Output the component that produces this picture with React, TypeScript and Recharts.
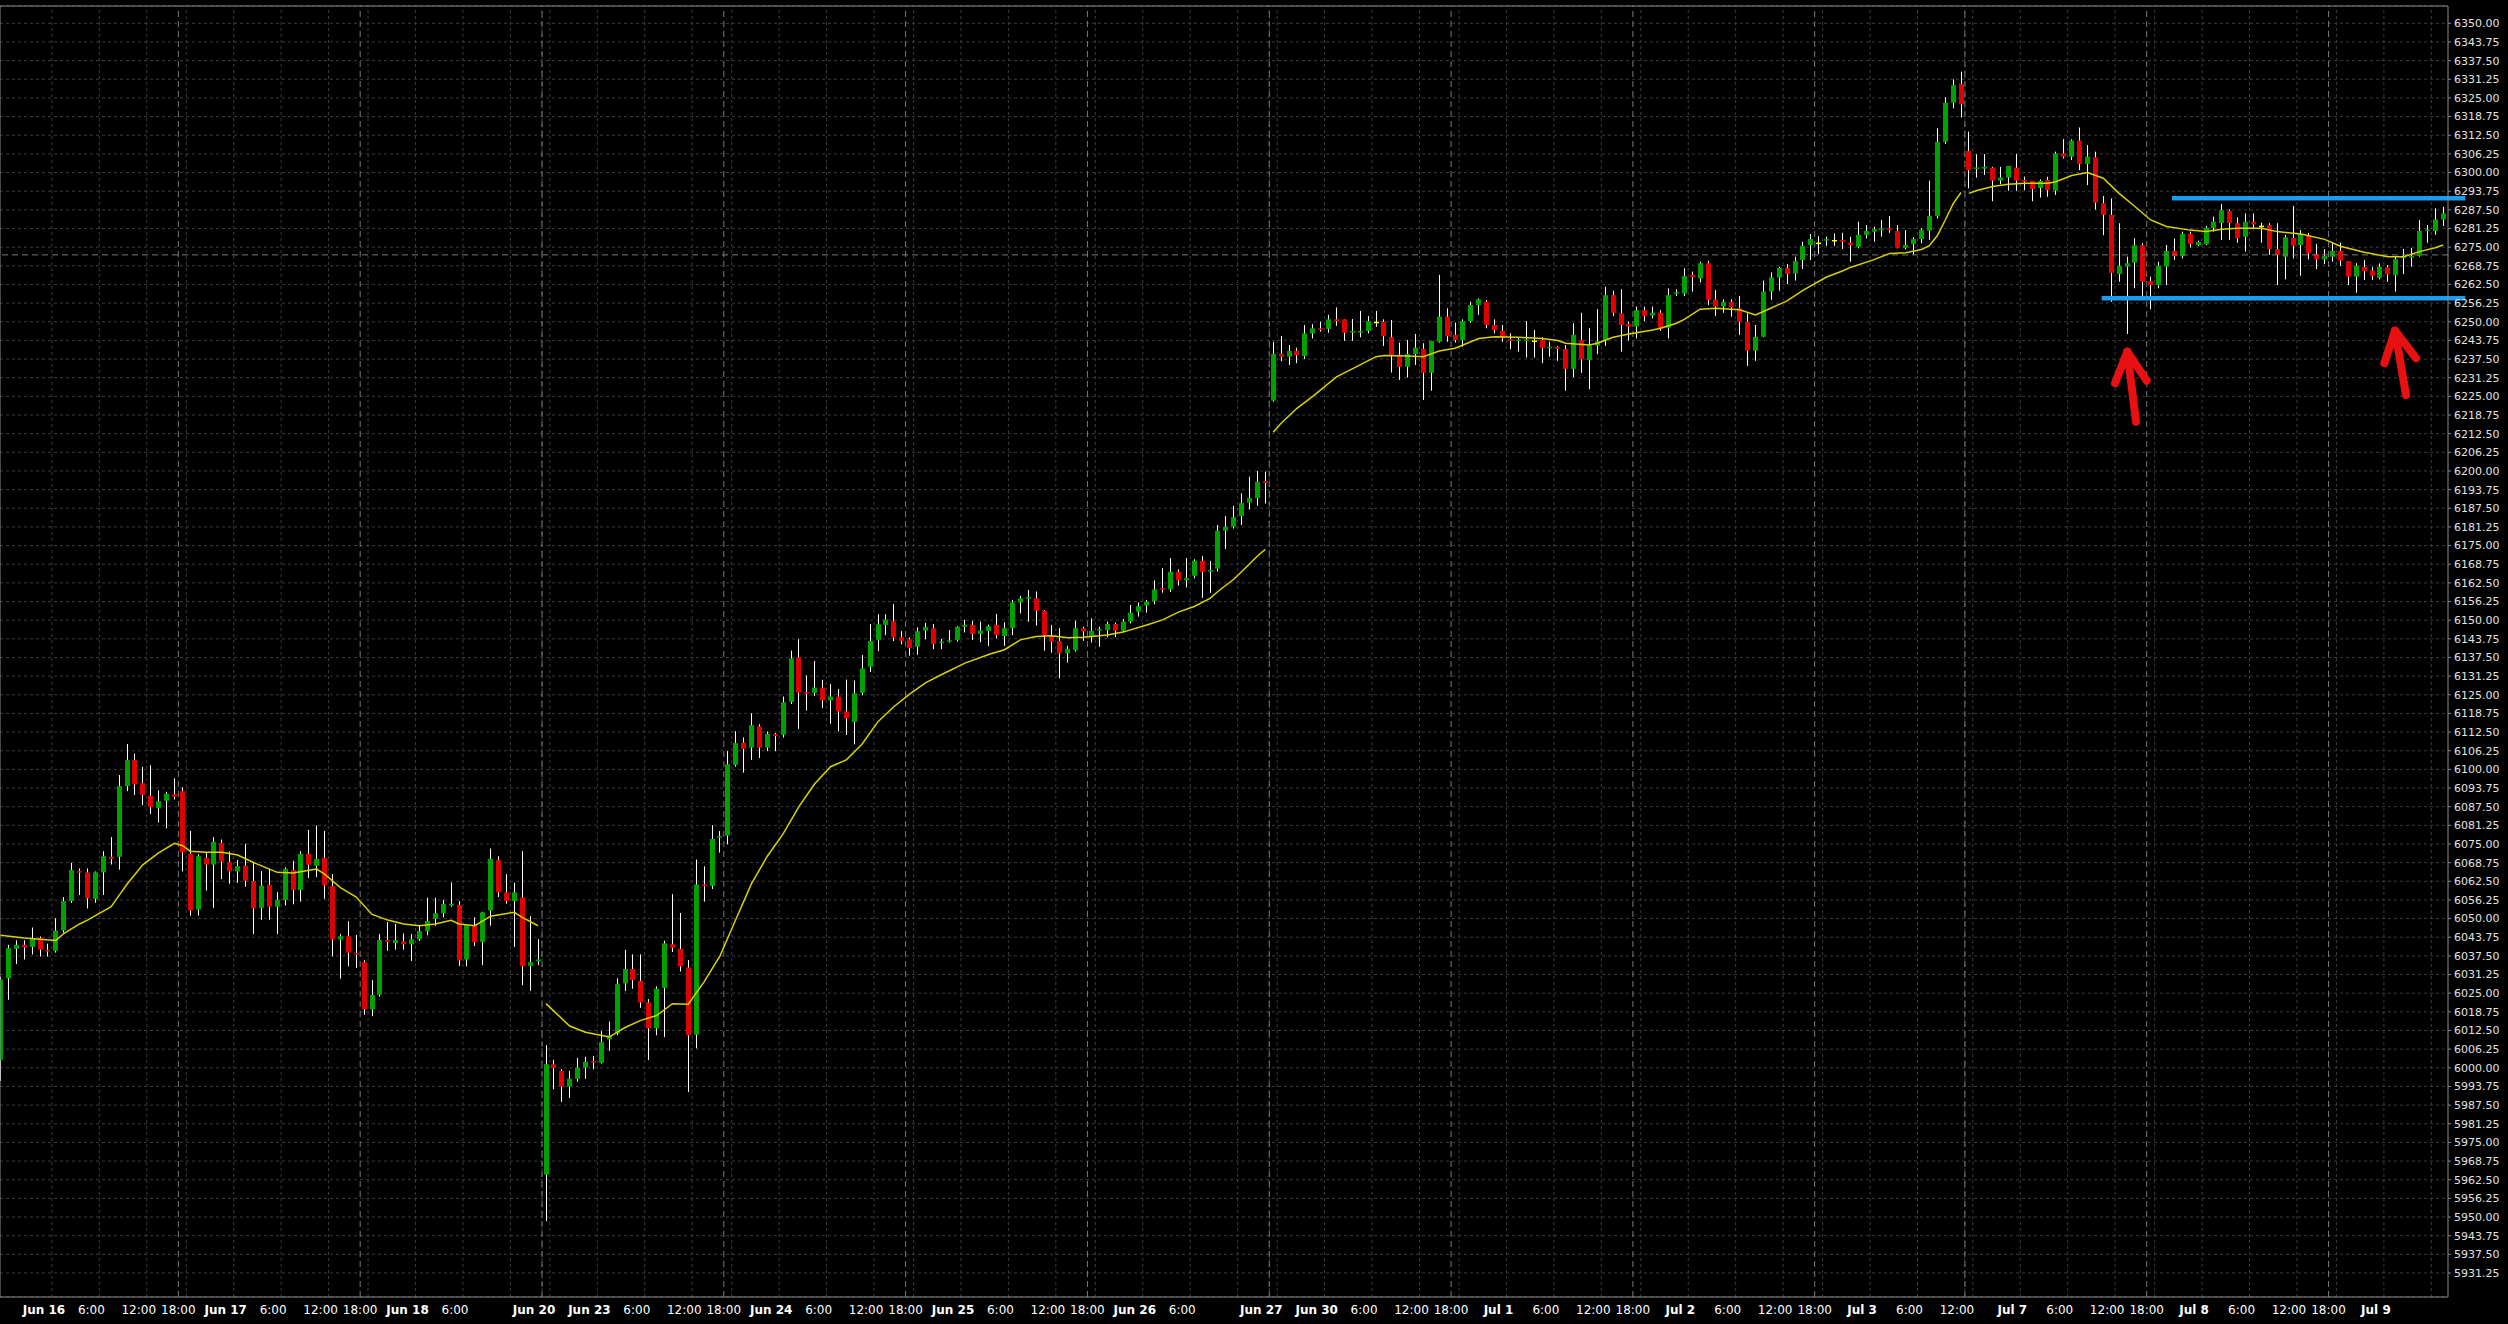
import { ComposedChart, Bar, Line, XAxis, YAxis, CartesianGrid, ReferenceLine } from "recharts";

type OHLC = [number, number, number, number]; // open, high, low, close

// hourly bars, one array per trading session
const jun16: OHLC[] = [
  [6002.7, 6030.5, 5995.6, 6029.6], [6030.0, 6041.2, 6022.8, 6040.1], [6039.9, 6042.7, 6034.8, 6041.2], [6041.2, 6042.7, 6036.3, 6040.3],
  [6040.5, 6047.0, 6038.0, 6043.5], [6043.5, 6044.0, 6037.3, 6039.6], [6039.5, 6041.6, 6037.3, 6039.0], [6039.2, 6050.1, 6038.6, 6046.0],
  [6046.0, 6057.2, 6045.3, 6055.9], [6055.9, 6068.7, 6055.3, 6066.3], [6065.9, 6066.8, 6057.9, 6065.4], [6065.5, 6066.8, 6053.4, 6056.8],
  [6056.6, 6065.8, 6055.3, 6065.5], [6065.5, 6072.6, 6057.9, 6070.9], [6070.7, 6077.3, 6068.1, 6070.0], [6070.7, 6098.1, 6066.4, 6094.4],
  [6094.4, 6108.5, 6092.7, 6103.1], [6103.1, 6105.3, 6091.4, 6095.0], [6095.4, 6100.8, 6088.0, 6091.4], [6091.2, 6101.4, 6085.0, 6087.3],
  [6087.1, 6093.0, 6082.2, 6089.3], [6089.5, 6092.5, 6080.2, 6091.8], [6091.7, 6097.0, 6089.9, 6090.9],
];
const jun17: OHLC[] = [
  [6092.7, 6094.0, 6065.8, 6072.2], [6071.7, 6079.4, 6051.0, 6052.7], [6053.0, 6071.6, 6051.0, 6070.9], [6070.3, 6072.2, 6059.4, 6068.1],
  [6068.1, 6077.3, 6053.6, 6075.7], [6075.3, 6076.5, 6063.2, 6069.1], [6069.0, 6072.5, 6061.7, 6065.8], [6065.8, 6069.6, 6062.0, 6067.6],
  [6067.7, 6075.1, 6060.7, 6062.7], [6062.6, 6068.7, 6044.8, 6053.4], [6053.6, 6065.9, 6049.6, 6061.0], [6061.3, 6066.8, 6049.6, 6054.0],
  [6054.0, 6058.9, 6044.8, 6056.3], [6056.2, 6067.2, 6054.4, 6066.7], [6066.3, 6069.4, 6054.8, 6059.6], [6059.6, 6072.6, 6055.7, 6071.7],
  [6071.7, 6079.7, 6063.6, 6068.1], [6067.7, 6081.2, 6063.9, 6070.0], [6070.3, 6079.4, 6056.6, 6061.1], [6060.9, 6064.9, 6037.3, 6043.0],
  [6043.0, 6044.8, 6029.9, 6044.1], [6044.1, 6049.1, 6034.0, 6038.6], [6038.5, 6044.5, 6033.5, 6038.0],
];
const jun18: OHLC[] = [
  [6035.4, 6036.0, 6017.8, 6019.6], [6019.6, 6029.4, 6017.3, 6024.4], [6024.5, 6044.8, 6023.9, 6042.8], [6042.8, 6048.9, 6039.2, 6042.2],
  [6041.8, 6048.2, 6039.6, 6042.8], [6042.4, 6045.0, 6039.6, 6041.4], [6041.4, 6044.8, 6035.8, 6043.1], [6043.0, 6047.6, 6042.5, 6045.8],
  [6045.8, 6057.0, 6044.4, 6049.2], [6049.9, 6057.0, 6047.6, 6051.8], [6051.8, 6056.3, 6050.4, 6054.9], [6054.4, 6062.1, 6054.0, 6055.0],
  [6054.6, 6055.9, 6034.1, 6036.0], [6036.3, 6047.8, 6034.0, 6047.8], [6047.8, 6050.4, 6040.8, 6042.1], [6042.2, 6052.3, 6034.4, 6052.1],
  [6052.7, 6073.5, 6047.6, 6070.0], [6069.6, 6070.9, 6057.2, 6058.8], [6058.8, 6064.9, 6055.0, 6055.9], [6055.9, 6062.0, 6040.5, 6058.8],
  [6057.1, 6072.6, 6027.7, 6034.1], [6034.2, 6050.8, 6025.8, 6035.4], [6035.7, 6043.1, 6034.4, 6036.3],
];
const jun23: OHLC[] = [
  [5964.2, 6007.6, 5948.6, 6001.2], [6001.2, 6002.7, 5992.8, 5999.9], [5998.9, 5999.5, 5988.6, 5993.7], [5993.7, 5998.9, 5989.9, 5996.3],
  [5996.3, 6003.3, 5995.3, 6000.1], [6000.1, 6003.7, 5996.3, 6002.0], [6002.3, 6004.0, 5999.5, 6001.8], [6001.7, 6012.3, 6001.4, 6008.6],
  [6009.5, 6015.5, 6005.7, 6010.9], [6011.5, 6030.0, 6010.9, 6028.0], [6028.3, 6039.5, 6025.7, 6033.1], [6033.1, 6038.0, 6026.5, 6029.4],
  [6029.1, 6038.0, 6020.1, 6021.9], [6021.9, 6023.0, 6002.6, 6013.2], [6013.2, 6027.3, 6010.9, 6026.5], [6026.8, 6042.6, 6010.3, 6041.7],
  [6041.4, 6058.2, 6038.8, 6040.2], [6039.8, 6051.9, 6032.3, 6034.0], [6033.6, 6036.1, 5991.9, 6010.9], [6011.1, 6069.8, 6006.5, 6061.4],
  [6061.4, 6067.5, 6055.7, 6061.0], [6061.0, 6081.3, 6059.9, 6076.7], [6077.1, 6079.3, 6072.1, 6077.6],
];
const jun24: OHLC[] = [
  [6077.8, 6106.1, 6074.9, 6101.7], [6101.5, 6112.8, 6100.9, 6108.8], [6109.0, 6110.7, 6098.9, 6106.9], [6107.3, 6118.8, 6103.2, 6114.8],
  [6114.4, 6115.1, 6103.8, 6107.3], [6107.3, 6112.7, 6106.1, 6111.9], [6111.8, 6112.2, 6106.1, 6111.2], [6111.6, 6124.4, 6110.7, 6122.5],
  [6122.6, 6139.8, 6121.9, 6137.2], [6137.5, 6143.6, 6113.6, 6125.7], [6125.9, 6131.5, 6119.7, 6125.4], [6125.6, 6136.3, 6124.6, 6127.4],
  [6127.4, 6130.0, 6120.5, 6123.1], [6123.1, 6128.6, 6115.3, 6124.4], [6124.4, 6126.9, 6112.7, 6119.4], [6119.4, 6130.1, 6111.5, 6117.1],
  [6115.9, 6129.8, 6108.4, 6125.5], [6125.7, 6138.3, 6124.8, 6133.8], [6134.4, 6148.7, 6132.6, 6143.0], [6143.4, 6152.0, 6139.6, 6148.6],
  [6148.4, 6152.0, 6145.0, 6150.2], [6149.6, 6155.4, 6143.0, 6144.2], [6144.3, 6146.3, 6141.9, 6143.0],
];
const jun25: OHLC[] = [
  [6143.6, 6144.2, 6138.1, 6140.7], [6141.1, 6147.6, 6138.4, 6146.3], [6146.5, 6149.1, 6143.6, 6147.7], [6147.3, 6148.7, 6140.3, 6142.0],
  [6142.3, 6143.7, 6140.3, 6142.8], [6142.8, 6146.7, 6142.5, 6143.3], [6143.4, 6148.0, 6142.8, 6147.8], [6147.8, 6150.1, 6145.9, 6148.4],
  [6148.4, 6149.8, 6143.4, 6145.4], [6145.4, 6149.5, 6142.6, 6146.5], [6146.4, 6148.5, 6141.3, 6148.0], [6148.4, 6152.1, 6143.9, 6145.0],
  [6144.7, 6149.3, 6141.4, 6147.3], [6147.3, 6156.8, 6145.0, 6155.9], [6155.9, 6158.1, 6152.3, 6157.3], [6157.3, 6160.1, 6149.5, 6157.7],
  [6157.3, 6159.6, 6148.2, 6153.1], [6153.1, 6153.4, 6139.8, 6145.0], [6144.7, 6148.4, 6139.1, 6142.8], [6143.0, 6147.3, 6130.5, 6138.9],
  [6138.9, 6141.4, 6135.8, 6140.4], [6140.0, 6149.8, 6139.5, 6147.3], [6147.3, 6147.8, 6143.1, 6146.2],
];
const jun26: OHLC[] = [
  [6144.7, 6150.6, 6142.5, 6146.4], [6146.5, 6147.8, 6141.1, 6147.0], [6146.7, 6149.5, 6144.3, 6148.7], [6148.7, 6149.2, 6144.3, 6146.5],
  [6146.5, 6150.4, 6145.9, 6149.5], [6149.5, 6155.1, 6148.9, 6152.5], [6152.8, 6155.9, 6151.2, 6154.7], [6154.9, 6156.8, 6152.5, 6156.2],
  [6156.4, 6163.3, 6155.3, 6160.3], [6160.8, 6167.4, 6159.2, 6160.3], [6160.3, 6170.8, 6159.4, 6166.2], [6166.2, 6167.0, 6161.6, 6163.3],
  [6163.3, 6170.8, 6161.0, 6164.1], [6164.9, 6170.4, 6164.0, 6169.9], [6169.9, 6171.5, 6157.5, 6166.2], [6166.3, 6169.8, 6159.2, 6166.8],
  [6167.3, 6181.9, 6166.3, 6179.9], [6180.0, 6184.9, 6173.9, 6181.3], [6181.3, 6188.3, 6180.7, 6184.5], [6184.9, 6192.5, 6181.9, 6189.2],
  [6189.4, 6198.1, 6187.1, 6190.9], [6190.9, 6200.0, 6188.3, 6196.3], [6196.6, 6199.8, 6189.1, 6196.0],
];
const jun30: OHLC[] = [
  [6223.6, 6243.3, 6223.2, 6239.2], [6239.2, 6245.2, 6236.8, 6238.3], [6238.3, 6242.2, 6235.5, 6240.2], [6240.2, 6241.3, 6236.1, 6238.8],
  [6238.5, 6248.9, 6237.5, 6246.1], [6246.1, 6249.2, 6244.4, 6247.8], [6247.8, 6250.0, 6246.7, 6247.3], [6247.6, 6252.3, 6246.3, 6250.8],
  [6250.8, 6254.8, 6248.6, 6250.2], [6250.8, 6250.8, 6243.6, 6246.3], [6246.4, 6250.9, 6243.6, 6246.9], [6246.4, 6253.6, 6244.8, 6246.9],
  [6246.9, 6251.9, 6246.1, 6250.2], [6250.0, 6253.6, 6248.3, 6250.0], [6250.0, 6250.8, 6241.9, 6245.2], [6244.8, 6250.6, 6233.0, 6238.9],
  [6238.9, 6243.0, 6230.5, 6234.9], [6234.9, 6243.9, 6231.3, 6239.2], [6239.2, 6245.9, 6235.5, 6241.3], [6240.9, 6242.8, 6223.8, 6232.9],
  [6232.9, 6243.6, 6226.9, 6243.6], [6243.3, 6265.7, 6243.0, 6251.7], [6251.7, 6254.5, 6243.3, 6245.2],
];
const jul1: OHLC[] = [
  [6245.6, 6249.7, 6243.0, 6243.9], [6243.9, 6250.8, 6241.6, 6250.2], [6250.2, 6256.7, 6249.7, 6255.6], [6255.6, 6257.8, 6252.3, 6257.5],
  [6256.7, 6257.3, 6247.8, 6248.9], [6248.9, 6250.8, 6246.1, 6247.2], [6246.9, 6248.9, 6243.3, 6244.8], [6244.1, 6246.1, 6240.8, 6243.7],
  [6243.6, 6244.8, 6240.0, 6244.0], [6243.6, 6250.2, 6238.0, 6244.0], [6243.7, 6247.2, 6238.0, 6243.7], [6243.9, 6244.8, 6236.1, 6241.3],
  [6241.2, 6243.3, 6238.3, 6241.6], [6241.6, 6241.9, 6236.9, 6241.0], [6240.9, 6242.2, 6226.9, 6234.2], [6234.2, 6249.5, 6231.4, 6245.6],
  [6243.9, 6253.0, 6232.9, 6237.4], [6237.2, 6247.8, 6227.4, 6242.0], [6242.0, 6254.2, 6239.1, 6243.5], [6243.9, 6261.7, 6241.9, 6258.9],
  [6258.9, 6260.4, 6251.9, 6253.0], [6252.8, 6260.9, 6240.0, 6248.9], [6249.2, 6250.0, 6243.7, 6248.4],
];
const jul2: OHLC[] = [
  [6248.4, 6255.1, 6244.4, 6253.9], [6253.9, 6255.1, 6250.2, 6252.0], [6252.1, 6255.1, 6251.1, 6253.0], [6253.0, 6253.9, 6247.0, 6248.0],
  [6248.0, 6261.2, 6244.4, 6258.9], [6259.4, 6260.9, 6258.6, 6259.9], [6259.5, 6267.9, 6258.6, 6265.3], [6265.7, 6266.8, 6260.1, 6264.9],
  [6264.5, 6270.1, 6263.2, 6269.6], [6269.6, 6270.4, 6255.6, 6257.3], [6257.5, 6260.6, 6251.9, 6255.1], [6255.1, 6257.5, 6253.0, 6256.7],
  [6256.7, 6257.5, 6251.7, 6254.8], [6254.5, 6258.6, 6245.6, 6250.0], [6250.0, 6252.8, 6235.2, 6240.3], [6240.3, 6248.9, 6236.9, 6245.0],
  [6245.0, 6263.8, 6244.8, 6260.1], [6260.1, 6266.5, 6257.3, 6264.8], [6264.8, 6268.4, 6260.4, 6268.0], [6268.0, 6269.3, 6262.6, 6266.0],
  [6266.2, 6271.8, 6263.8, 6270.3], [6270.7, 6276.8, 6267.7, 6275.4], [6275.7, 6279.4, 6270.7, 6277.7],
];
const jul3: OHLC[] = [
  [6276.5, 6278.7, 6272.7, 6276.5], [6277.2, 6278.5, 6275.4, 6277.7], [6277.4, 6279.6, 6275.4, 6277.4], [6277.4, 6279.8, 6274.4, 6276.8],
  [6276.5, 6278.5, 6270.1, 6275.7], [6275.1, 6283.5, 6274.6, 6279.1], [6279.1, 6282.4, 6277.9, 6280.4], [6280.2, 6281.8, 6276.8, 6281.0],
  [6280.7, 6284.1, 6278.5, 6281.3], [6281.3, 6285.4, 6279.8, 6280.7], [6280.4, 6282.4, 6274.6, 6274.8], [6274.8, 6280.7, 6274.3, 6275.7],
  [6276.0, 6278.3, 6272.4, 6277.7], [6277.7, 6281.3, 6276.3, 6280.7], [6280.5, 6297.3, 6277.4, 6285.4], [6285.4, 6314.8, 6284.6, 6310.3],
  [6310.3, 6325.2, 6309.6, 6323.4], [6323.4, 6331.2, 6321.5, 6329.3], [6329.7, 6333.8, 6318.5, 6322.9],
];
const jul7: OHLC[] = [
  [6307.2, 6313.7, 6294.7, 6300.8], [6301.2, 6306.1, 6298.3, 6301.7], [6301.3, 6306.2, 6299.2, 6301.9], [6301.6, 6301.9, 6290.4, 6297.3],
  [6297.3, 6301.9, 6296.1, 6298.3], [6298.3, 6302.2, 6293.9, 6302.2], [6301.6, 6306.2, 6293.9, 6297.3], [6297.5, 6298.6, 6294.1, 6297.0],
  [6297.2, 6297.2, 6290.4, 6294.5], [6294.8, 6297.7, 6291.6, 6297.2], [6297.5, 6298.6, 6291.9, 6294.1], [6293.9, 6307.0, 6292.5, 6306.4],
  [6306.4, 6311.2, 6304.7, 6305.3], [6305.3, 6311.1, 6304.2, 6310.7], [6310.7, 6315.1, 6300.8, 6302.9], [6302.9, 6309.2, 6295.8, 6305.3],
  [6305.1, 6307.0, 6287.6, 6289.9], [6289.7, 6292.1, 6279.0, 6285.8], [6285.8, 6291.3, 6256.7, 6266.4], [6266.0, 6283.0, 6263.4, 6268.7],
  [6268.5, 6271.8, 6245.9, 6269.6], [6269.8, 6278.0, 6261.2, 6275.6], [6275.6, 6276.3, 6258.4, 6263.4],
];
const jul8: OHLC[] = [
  [6263.6, 6265.1, 6254.2, 6262.3], [6262.3, 6270.1, 6261.2, 6268.7], [6268.5, 6275.7, 6262.3, 6273.7], [6273.7, 6277.9, 6270.7, 6272.0],
  [6272.0, 6280.2, 6271.2, 6279.4], [6279.4, 6280.2, 6274.9, 6276.0], [6275.7, 6277.2, 6275.4, 6276.7], [6276.0, 6282.1, 6275.7, 6281.5],
  [6281.5, 6285.2, 6280.2, 6283.5], [6283.1, 6289.4, 6277.4, 6287.4], [6287.1, 6287.6, 6277.4, 6283.1], [6283.0, 6285.0, 6276.5, 6278.0],
  [6278.5, 6286.3, 6273.5, 6283.5], [6283.5, 6286.3, 6281.0, 6282.6], [6282.2, 6283.2, 6276.5, 6282.2], [6282.4, 6283.0, 6272.4, 6274.3],
  [6274.3, 6283.0, 6262.3, 6272.4], [6271.8, 6279.1, 6264.2, 6278.3], [6278.0, 6288.8, 6271.2, 6275.5], [6275.7, 6280.7, 6265.4, 6279.3],
  [6278.9, 6279.8, 6270.9, 6272.9], [6272.7, 6276.1, 6267.6, 6270.9], [6270.9, 6274.3, 6269.3, 6272.0],
];
const jul9: OHLC[] = [
  [6271.8, 6276.3, 6270.1, 6273.7], [6273.7, 6276.5, 6268.7, 6270.5], [6270.3, 6270.3, 6262.3, 6265.1], [6265.1, 6269.6, 6259.7, 6268.7],
  [6268.3, 6270.7, 6264.0, 6267.0], [6267.1, 6268.4, 6264.0, 6265.4], [6264.7, 6269.5, 6264.2, 6268.4], [6268.2, 6269.0, 6263.4, 6265.9],
  [6265.6, 6271.8, 6260.1, 6270.9], [6271.3, 6274.4, 6266.0, 6271.8], [6271.5, 6274.8, 6268.5, 6272.0], [6272.1, 6284.1, 6271.8, 6280.4],
  [6280.4, 6282.4, 6276.5, 6280.9], [6280.4, 6288.0, 6279.1, 6284.3], [6284.3, 6288.5, 6282.1, 6286.3],
];

const sessions = [jun16, jun17, jun18, jun23, jun24, jun25, jun26, jun30, jul1, jul2, jul3, jul7, jul8, jul9];

// moving average as [bar, value]; it breaks at the session gaps
const maPart1: [number, number][] = [
  [0, 6044.4], [3, 6043.5], [5, 6043.1], [7, 6042.7], [8, 6045.0], [10, 6048.2], [11, 6049.5], [14, 6054.0], [15, 6057.8],
  [16, 6061.5], [17, 6064.8], [18, 6068.0], [20, 6072.0], [22, 6075.2], [23, 6074.5], [24, 6072.6], [26, 6072.2], [28, 6072.2],
  [30, 6071.3], [32, 6068.8], [35, 6065.5], [37, 6065.3], [39, 6066.2], [40, 6066.6], [41, 6064.9], [43, 6060.4], [45, 6057.2],
  [47, 6051.4], [49, 6049.5], [51, 6048.2], [53, 6047.6], [55, 6048.2], [57, 6049.4], [58, 6048.2], [60, 6047.6], [62, 6050.8],
  [65, 6052.1], [66, 6050.4], [68, 6047.6],
];
const maPart2: [number, number][] = [
  [69, 6021.5], [72, 6014.0], [74, 6011.9], [77, 6010.3], [79, 6013.5], [81, 6015.9], [83, 6017.5], [85, 6021.5], [87, 6021.3],
  [89, 6028.8], [91, 6037.4], [93, 6049.6], [95, 6061.7], [97, 6070.9], [99, 6078.4], [101, 6087.5], [103, 6095.2], [105, 6100.9],
  [107, 6103.2], [109, 6108.5], [111, 6116.0], [113, 6121.0], [115, 6125.2], [117, 6129.0], [119, 6131.7], [122, 6135.6],
  [125, 6138.5], [127, 6140.1], [129, 6143.4], [131, 6144.5], [133, 6144.8], [135, 6144.1], [137, 6144.3], [140, 6145.0],
  [142, 6146.0], [145, 6148.4], [147, 6150.1], [149, 6152.7], [151, 6154.6], [153, 6157.3], [154, 6159.6], [156, 6163.7],
  [158, 6168.8], [159, 6171.5], [160, 6173.7],
];
const maPart3: [number, number][] = [
  [161, 6213.0], [162, 6216.0], [164, 6221.0], [166, 6225.0], [169, 6231.5], [171, 6234.2], [174, 6238.3], [175, 6238.7],
  [178, 6238.5], [180, 6238.3], [182, 6240.2], [184, 6241.1], [187, 6244.4], [189, 6245.0], [192, 6244.8], [195, 6244.4],
  [197, 6243.7], [198, 6242.8], [201, 6242.2], [202, 6242.8], [204, 6244.8], [206, 6245.9], [209, 6247.2], [210, 6247.8],
  [212, 6249.5], [213, 6250.8], [215, 6254.2], [217, 6254.5], [220, 6254.0], [222, 6252.3], [224, 6254.6], [226, 6257.0],
  [228, 6260.5], [231, 6265.0], [233, 6267.0], [234, 6268.2], [237, 6270.8], [239, 6272.9], [241, 6273.1], [243, 6274.2],
  [244, 6275.5], [245, 6278.8], [246, 6284.0], [247, 6289.5], [248, 6293.3],
];
const maPart4: [number, number][] = [
  [249, 6293.0], [250, 6294.0], [252, 6295.3], [254, 6296.1], [256, 6296.4], [259, 6296.4], [260, 6296.9], [262, 6299.0],
  [264, 6300.0], [266, 6298.1], [268, 6293.0], [270, 6288.6], [272, 6284.1], [274, 6281.9], [277, 6280.7], [279, 6280.2],
  [281, 6281.0], [283, 6281.3], [286, 6281.3], [288, 6280.2], [291, 6279.4], [294, 6277.6], [296, 6275.3], [299, 6273.3],
  [302, 6271.8], [304, 6271.8], [306, 6273.5], [308, 6274.8], [309, 6275.7],
];

// time scale labels, one per bar index ("" = grid line only)
const tickBars = [
  6, 12, 18, 23, 29, 35, 41, 46, 52, 58, 64, 68, 69, 75, 81, 87, 92, 98, 104, 110, 115, 121, 127, 133,
  138, 144, 150, 156, 160, 161, 167, 173, 179, 184, 190, 196, 202, 207, 213, 219, 225, 230, 236, 242, 248,
  249, 255, 261, 267, 272, 278, 284, 290, 295, 301, 307,
];
const tickLabels = [
  "Jun 16", "6:00", "12:00", "18:00", "Jun 17", "6:00", "12:00", "18:00", "Jun 18", "6:00", "", "Jun 20", "", "Jun 23", "6:00", "12:00",
  "18:00", "Jun 24", "6:00", "12:00", "18:00", "Jun 25", "6:00", "12:00",
  "18:00", "Jun 26", "6:00", "", "Jun 27", "", "Jun 30", "6:00", "12:00", "18:00", "Jul 1", "6:00", "12:00", "18:00", "Jul 2", "6:00", "12:00",
  "18:00", "Jul 3", "6:00", "12:00",
  "", "Jul 7", "6:00", "12:00", "18:00", "Jul 8", "6:00", "12:00", "18:00", "Jul 9", "",
];

const priceTicks = Array.from({ length: 68 }, (_, i) => 5931.25 + i * 6.25);
const dashedLevel = 6272.4;
// user drawn box lines and arrows, in bar / price units
const rangeLines = [
  { from: 274.7, to: 311.8, price: 6291.4 },
  { from: 265.8, to: 311.8, price: 6257.85 },
];
const arrows = [
  { tail: [270.15, 6216.5], tip: [269.04, 6239.96], left: [267.49, 6229.37], right: [271.5, 6230.24] },
  { tail: [304.3, 6225.45], tip: [302.9, 6247.0], left: [301.56, 6236.07], right: [305.57, 6237.75] },
];

const X_MIN = -0.0633;
const X_MAX = 309.61;
const Y_MIN = 5923.2;
const Y_MAX = 6355.8;

const GREEN = "#00a000";
const RED = "#e00000";
const DOJI = "#ffff00";
const MA = "#d8d200";
const GRID = "#3c3c3c";
const SEP = "#7a7a7a";
const FRAME = "#8c8c8c";
const BLUE = "#1c9cf0";
const ARROW = "#e81010";
const FONT = "DejaVu Sans";

const rows: Record<string, any>[] = [];
sessions.forEach((s) =>
  s.forEach(([o, h, l, c]) => rows.push({ i: rows.length, o, h, l, c, range: [l, h] }))
);
[maPart1, maPart2, maPart3, maPart4].forEach((part, p) =>
  part.forEach(([bar, v]) => { rows[bar]["ma" + p] = v; })
);

const separators: number[] = [];
sessions.reduce((start, s, k) => {
  if (k > 0) separators.push(start - 0.5);
  return start + s.length;
}, 0);

function Candle(props: any) {
  const { x, y, width, height, payload } = props;
  if (x == null || y == null) return null;
  const { o, h, l, c } = payload;
  const top = Math.min(y, y + height);
  const span = Math.abs(height);
  const k = h > l ? span / (h - l) : 0;
  const cx = Math.round(x + width / 2);
  const yo = top + (h - Math.max(o, c)) * k;
  const yc = top + (h - Math.min(o, c)) * k;
  const fill = c > o ? GREEN : c < o ? RED : DOJI;
  return (
    <g>
      <line x1={cx + 0.5} x2={cx + 0.5} y1={top} y2={top + span} stroke="#ffffff" strokeWidth={1} />
      <rect x={cx - 2} y={yo} width={5} height={Math.max(yc - yo, 1.5)} fill={fill} />
    </g>
  );
}

function TimeTick(props: any) {
  const { x, y, payload } = props;
  const label = tickLabels[tickBars.indexOf(payload.value)];
  if (!label) return null;
  const isDate = label.startsWith("Jun") || label.startsWith("Jul");
  return (
    <text x={x - 4} y={y + 17} textAnchor="middle" fill="#ffffff" fontSize={12}
      fontWeight={isDate ? "bold" : "normal"} fontFamily={FONT}>
      {label}
    </text>
  );
}

export default function App() {
  return (
    <div style={{ position: "absolute", left: 0, top: 0, width: 2508, height: 1324, background: "#000" }}>
      <ComposedChart width={2508} height={1324} data={rows} margin={{ top: 6, right: 0, bottom: 0, left: 0 }}>
        <CartesianGrid vertical={false} stroke={GRID} strokeDasharray="3 3" />
        <XAxis type="number" dataKey="i" domain={[X_MIN, X_MAX]} allowDataOverflow ticks={tickBars} interval={0}
          tick={<TimeTick />} tickLine={false} tickSize={0} tickMargin={0} height={27} axisLine={{ stroke: FRAME }} />
        <YAxis orientation="right" domain={[Y_MIN, Y_MAX]} allowDataOverflow ticks={priceTicks} interval={0} width={60}
          tickSize={3} tickMargin={3} tickFormatter={(v: number) => v.toFixed(2)}
          tick={{ fill: "#e2e2e2", fontSize: 11, fontFamily: FONT }} tickLine={{ stroke: FRAME }} axisLine={{ stroke: FRAME }} />

        {tickBars.map((b) => (
          <ReferenceLine key={"g" + b} x={b + 0.5} stroke={GRID} strokeDasharray="3 3" />
        ))}
        {separators.map((s) => (
          <ReferenceLine key={"s" + s} x={s} stroke={SEP} strokeDasharray="6 4" />
        ))}
        <ReferenceLine y={dashedLevel} stroke={SEP} strokeDasharray="6 4" />
        <ReferenceLine y={Y_MAX} stroke={FRAME} />
        <ReferenceLine x={X_MIN} stroke={FRAME} />

        <Bar dataKey="range" barSize={5} shape={<Candle />} isAnimationActive={false} />
        {["ma0", "ma1", "ma2", "ma3"].map((k) => (
          <Line key={k} dataKey={k} type="linear" connectNulls dot={false} activeDot={false}
            stroke={MA} strokeWidth={1.5} isAnimationActive={false} />
        ))}

        {rangeLines.map((r, n) => (
          <ReferenceLine key={"r" + n} ifOverflow="visible" stroke={BLUE} strokeWidth={4.5}
            segment={[{ x: r.from, y: r.price }, { x: r.to, y: r.price }]} />
        ))}
        {arrows.flatMap((a, n) =>
          [a.tail, a.left, a.right].map((p, m) => (
            <ReferenceLine key={"a" + n + m} ifOverflow="visible" stroke={ARROW} strokeWidth={8} strokeLinecap="round"
              segment={[{ x: p[0], y: p[1] }, { x: a.tip[0], y: a.tip[1] }]} />
          ))
        )}
      </ComposedChart>
    </div>
  );
}
